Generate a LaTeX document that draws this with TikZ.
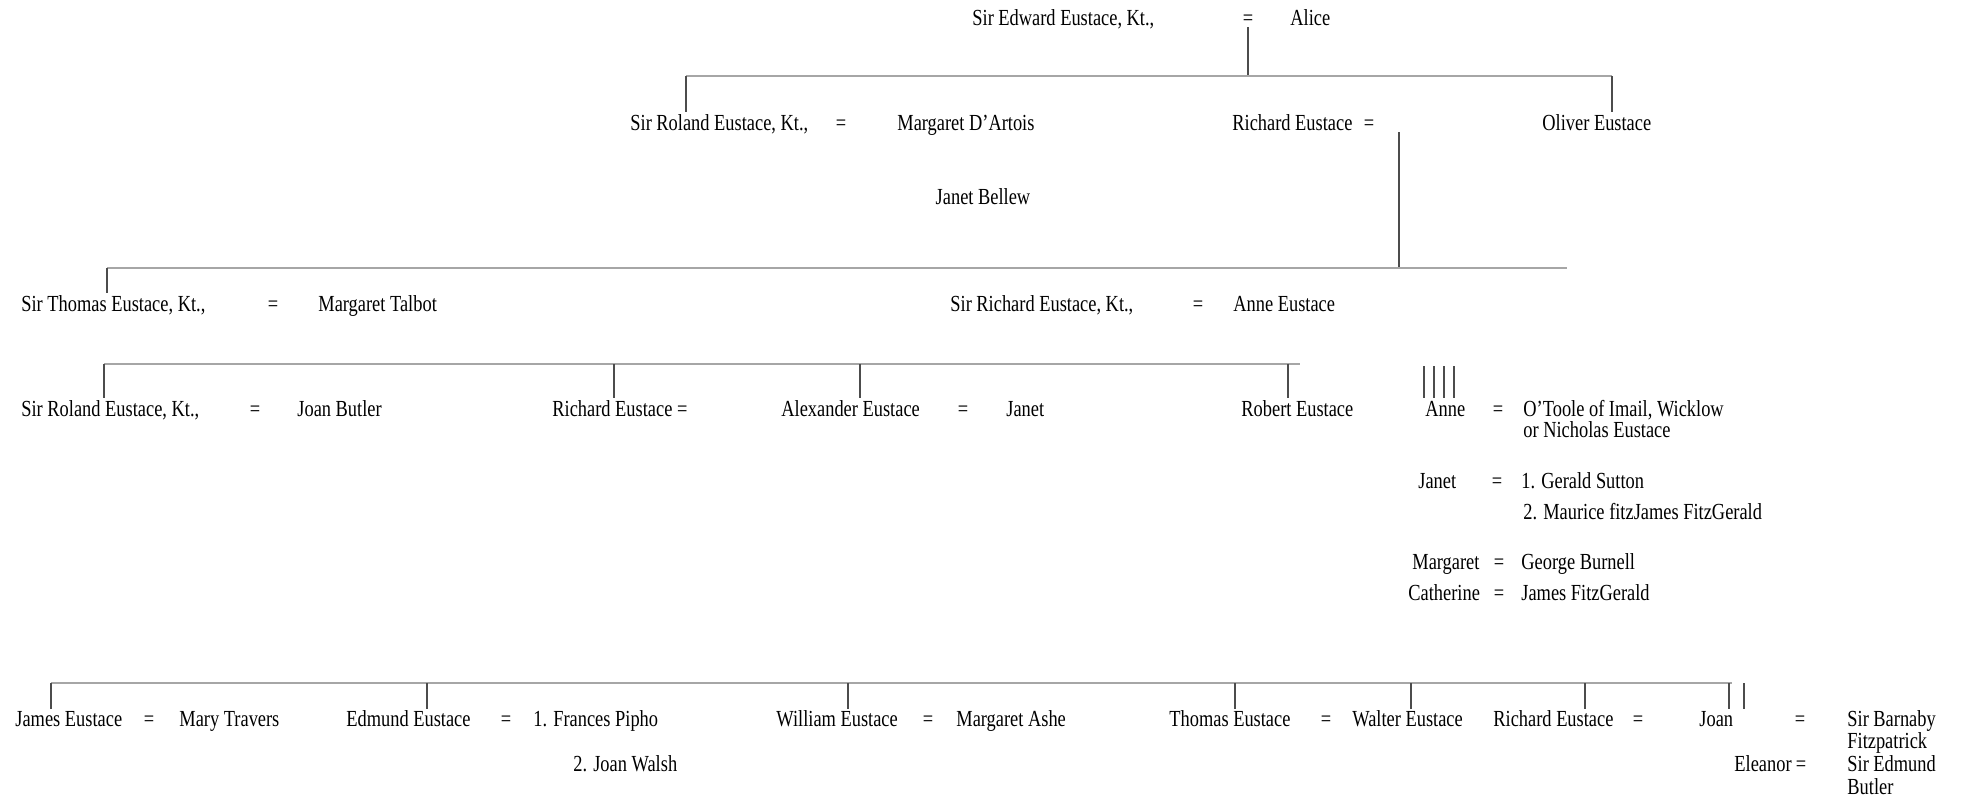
\documentclass[tikz,border=0pt]{standalone}
\usepackage{fontspec}
\setmainfont{Liberation Serif}[FakeStretch=0.8]
\tikzset{x=0.5pt, y=-0.5pt}
\tikzset{person/.style={anchor=base west, inner sep=1pt, text=black,
    font=\fontsize{11.5}{13}\selectfont},
  wed/.style={person, anchor=base},
  bar/.style={draw=black!35, line width=0.7pt},
  drop/.style={draw=black!70, line width=0.7pt}}

\begin{document}
\begin{tikzpicture}
\useasboundingbox (0,0) rectangle (1982,810);
% first generation
\node[person] (edward) at (970,25) {Sir Edward Eustace, Kt.,};
\node[wed] (w1) at (1248,25) {=};
\node[person] (alice) at (1288,25) {Alice};
\coordinate (b1l) at (686,76);
\coordinate (b1r) at (1612,76);
\draw[drop] (w1.south) -- (w1.south |- b1l);
\draw[bar] (b1l) -- (b1r);
% second generation
\node[person] (roland) at (628,130) {Sir Roland Eustace, Kt.,};
\node[wed] (w2) at (841,130) {=};
\node[person] (dartois) at (895,130) {Margaret D'Artois};
\node[person] (richard) at (1230,130) {Richard Eustace};
\node[wed] (w3) at (1369,130) {=};
\node[person] (oliver) at (1540,130) {Oliver Eustace};
\node[wed] (bellew) at (983,204) {Janet Bellew};
\draw[drop] (b1l) -- (b1l |- roland.north);
\draw[drop] (b1r) -- (b1r |- oliver.north);
\coordinate (b2l) at (107,268);
\coordinate (b2m) at (1399,268);
\coordinate (b2r) at (1567,268);
\draw[drop] (w3.south -| b2m) -- (b2m);
\draw[bar] (b2l) -- (b2r);
% third generation
\node[person] (thomas) at (19,311) {Sir Thomas Eustace, Kt.,};
\node[wed] (w4) at (273,311) {=};
\node[person] (talbot) at (316,311) {Margaret Talbot};
\node[person] (srichard) at (948,311) {Sir Richard Eustace, Kt.,};
\node[wed] (w5) at (1198,311) {=};
\node[person] (anneE) at (1231,311) {Anne Eustace};
\draw[drop] (b2l) -- (b2l |- thomas.north);
% fourth generation
\node[person] (roland2) at (19,416) {Sir Roland Eustace, Kt.,};
\node[wed] (w6) at (255,416) {=};
\node[person] (butler) at (295,416) {Joan Butler};
\node[person] (richard2) at (550,416) {Richard Eustace =};
\node[person] (alexander) at (779,416) {Alexander Eustace};
\node[wed] (w7) at (963,416) {=};
\node[person] (janetA) at (1004,416) {Janet};
\node[person] (robert) at (1239,416) {Robert Eustace};
\node[person] (anne) at (1423,416) {Anne};
\node[wed] (w8) at (1498,416) {=};
\node[person] (otoole) at (1521,416) {O'Toole of Imail, Wicklow};
\node[person] (nicholas) at (1521,437) {or Nicholas Eustace};
\node[person] (janet) at (1416,488) {Janet};
\node[wed] (w9) at (1497,488) {=};
\node[person] (sutton) at (1519,488) {1. Gerald Sutton};
\node[person] (maurice) at (1521,519) {2. Maurice fitzJames FitzGerald};
\node[person] (margaret) at (1410,569) {Margaret};
\node[wed] (w10) at (1499,569) {=};
\node[person] (burnell) at (1519,569) {George Burnell};
\node[person] (catherine) at (1406,600) {Catherine};
\node[wed] (w11) at (1499,600) {=};
\node[person] (jamesF) at (1519,600) {James FitzGerald};
\coordinate (b3l) at (104,364);
\coordinate (b3r) at (1300,364);
\draw[bar] (b3l) -- (b3r);
\foreach \x/\n in {104/roland2, 614/richard2, 860/alexander, 1288/robert}{
  \coordinate (d\n) at (\x,364);
  \draw[drop] (d\n) -- (d\n |- \n.north);
}
\foreach \x/\n in {1424/anne, 1434/janet, 1444/margaret, 1454/catherine}{
  \coordinate (d\n) at (\x,366);
  \draw[drop] (d\n) -- (d\n |- anne.north);
}
% fifth generation
\node[person] (james) at (13,726) {James Eustace};
\node[wed] (w12) at (149,726) {=};
\node[person] (travers) at (177,726) {Mary Travers};
\node[person] (edmund) at (344,726) {Edmund Eustace};
\node[wed] (w13) at (506,726) {=};
\node[person] (pipho) at (531,726) {1. Frances Pipho};
\node[person] (walsh) at (571,771) {2. Joan Walsh};
\node[person] (william) at (774,726) {William Eustace};
\node[wed] (w14) at (928,726) {=};
\node[person] (ashe) at (954,726) {Margaret Ashe};
\node[person] (thomas2) at (1167,726) {Thomas Eustace};
\node[wed] (w15) at (1326,726) {=};
\node[person] (walter) at (1350,726) {Walter Eustace};
\node[person] (richard3) at (1491,726) {Richard Eustace};
\node[wed] (w16) at (1638,726) {=};
\node[person] (joan) at (1697,726) {Joan};
\node[wed] (w17) at (1800,726) {=};
\node[person] (barnaby) at (1845,726) {Sir Barnaby};
\node[person] (fitzp) at (1845,748) {Fitzpatrick};
\node[person] (eleanor) at (1732,771) {Eleanor};
\node[wed] (w18) at (1801,771) {=};
\node[person] (sedmund) at (1845,771) {Sir Edmund};
\node[person] (butler2) at (1845,794) {Butler};
\coordinate (b4l) at (51,683);
\coordinate (b4r) at (1732,683);
\draw[bar] (b4l) -- (b4r);
\foreach \x/\n in {51/james, 427/edmund, 848/william, 1235/thomas2, 1411/walter, 1585/richard3, 1729/joan, 1744/eleanor}{
  \coordinate (d\n) at (\x,683);
  \draw[drop] (d\n) -- (d\n |- joan.north);
}
\end{tikzpicture}
\end{document}
